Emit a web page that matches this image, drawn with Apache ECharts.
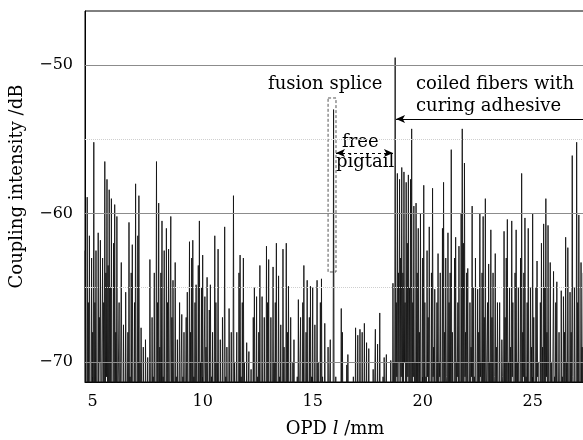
<!DOCTYPE html>
<html>
<head>
<meta charset="utf-8">
<script src="https://cdn.jsdelivr.net/npm/echarts@6/dist/echarts.min.js"></script>
<style>
    html, body { margin: 0; padding: 0; background: #fff; }
    #chart { width: 583px; height: 440px; }
</style>
</head>
<body>
<div id="chart"></div>
<script>
    // OPD sample grid (mm): peaks on the 0.05 grid, dips half way between
    const opdStart = 4.65;
    const opdStep = 0.05;
    const opdMin = 4.65;
    const opdMax = 27.38;

    // coupling intensity (dB) on the 0.05 mm grid
    const intensity = [
        -62.5, -73, -58.9, -66, -61.5, -72, -63,
        // 5
        -68, -55.2, -66, -62.5, -72, -61.3, -67, -61.8, -74, -63, -66, -56.5, -64, -57.7, -63.5, -58.4, -65, -59, -72, -62,
        // 6
        -59.4, -68, -60.2, -73, -66, -74, -63.3, -72, -67.5, -74, -65.3, -73, -68, -60.6, -71, -64, -62.1, -73, -66, -58.0,
        // 7
        -72, -61.5, -58.8, -70, -67.7, -74, -69, -73, -68.5, -74, -69.7, -72, -63.1, -73, -67, -71, -64, -74, -56.5, -66,
        // 8
        -59.3, -69, -64, -60.5, -71, -62.5, -74, -61, -66, -62.4, -73, -60.2, -67, -64.5, -74, -63.3, -71, -68.5, -74, -66,
        // 9
        -73, -66.8, -71, -68, -74, -67, -65.3, -72, -61.9, -68, -63, -61.8, -71, -66, -64.8, -72, -63.5, -60.5, -70, -65,
        // 10
        -62.8, -72, -65.6, -69, -64.3, -73, -66.5, -64.8, -71, -68, -74, -61.5, -66, -70, -62.4, -74, -68.5, -72, -67, -74,
        // 11
        -60.9, -71, -69, -74, -66.4, -72, -68, -74, -58.8, -70, -74, -68, -73, -64, -62.8, -71, -66, -63, -70, -74,
        // 12
        -68.7, -74, -69.3, -72, -70.5, -74, -67, -65, -73, -65.6, -71, -68, -63.5, -74, -65.6, -72, -67, -74, -62.2, -66,
        // 13
        -63.1, -72, -67, -74, -63.6, -70, -66, -62.0, -73, -64.2, -71, -67.5, -74, -62.4, -69, -72, -62.0, -68, -64.9, -73,
        // 14
        -67, -74, -70, -68.5, -74, -74, -71, -65.8, -73, -67, -74, -66, -63.5, -72, -68, -64.5, -73, -67, -64.9, -71,
        // 15 (fusion splice peak at the end)
        -65, -72, -67.5, -74, -64.5, -70, -73, -66, -64.4, -71, -74, -67.4, -72, -74, -69, -74, -68.5, -73, -74, -53.0,
        // 16 (free pigtail)
        -74, -71, -74, -74, -72, -74, -66.4, -68, -74, -73, -74, -70.2, -69.5, -74, -74, -72, -74, -71, -74, -67.7,
        // 17
        -74, -68.2, -74, -67.8, -74, -68, -74, -67.4, -73, -68.7, -74, -69.1, -74, -72, -74, -70.5, -74, -67.8, -74, -68.8,
        // 18 (start of coiled fibers)
        -74, -66.7, -73, -74, -71, -69.7, -74, -69.5, -74, -72, -74, -69.9, -74, -64.7, -70, -49.5, -66, -57.3, -64, -57.7,
        // 19
        -63, -56.9, -64, -57.2, -66, -57.9, -62, -57.4, -65, -57.7, -54.3, -66, -59.5, -70, -59.3, -64, -61, -68, -60, -72,
        // 20
        -63, -58.1, -66, -71, -62.5, -67, -60.9, -72, -64, -58.3, -69, -65.1, -73, -66, -62.7, -70, -64, -74, -61, -57.9,
        // 21
        -68, -63, -72, -61.3, -66, -64, -55.7, -68, -73, -63, -61.6, -70, -66, -62.2, -72, -60, -54.3, -62, -56.6, -68,
        // 22
        -64, -63.7, -72, -66, -69, -59.5, -65, -71, -63, -73, -65.1, -68, -60, -70, -64, -60.2, -67, -59.0, -72, -66,
        // 23
        -63.4, -70, -61.1, -67, -64, -73, -62.7, -69, -66, -72, -66, -74, -68.5, -71, -61.2, -67, -63, -60.4, -70, -65,
        // 24
        -69, -60.5, -66, -72, -64, -61.1, -70, -65, -73, -63, -57.3, -68, -64, -60.3, -71, -66, -61, -73, -65, -69,
        // 25
        -60.0, -67, -72, -65, -63.2, -70, -74, -66, -62, -69, -60.7, -65, -59.0, -68, -60.8, -72, -63.3, -70, -74, -63.9,
        // 26
        -71, -66, -64.6, -73, -68, -74, -65.2, -71, -65.6, -68, -61.6, -70, -62.3, -72, -65.3, -68, -56.1, -71, -65, -73,
        // 27
        -55.2, -66, -60.1, -72, -63.3, -69, -64
    ];

    // troughs between neighbouring samples (dB); most fall below the axis floor
    const dips = [
        -74, -75, -72, -76, -73, -75, -74,
        // 5
        -73, -75, -72, -74, -76, -73, -70, -75, -74, -72, -75, -73, -71, -74, -76, -72, -75, -73, -74, -75,
        // 6
        -72, -76, -74, -73, -75, -74, -72, -76, -73, -75, -74, -72, -75, -73, -76, -74, -72, -75, -73, -74,
        // 7
        -75, -73, -76, -74, -72, -75, -74, -76, -73, -75, -74, -76, -72, -75, -73, -74, -76, -72, -75, -73,
        // 8
        -74, -76, -72, -75, -73, -74, -76, -72, -75, -74, -73, -76, -74, -72, -75, -73, -76, -74, -72, -75,
        // 9
        -73, -75, -74, -76, -72, -75, -73, -74, -76, -72, -75, -73, -74, -76, -72, -75, -74, -73, -76, -74,
        // 10
        -75, -72, -74, -76, -73, -75, -74, -72, -76, -74, -73, -75, -76, -72, -74, -75, -73, -76, -74, -72,
        // 11
        -74, -76, -73, -75, -72, -74, -76, -73, -75, -74, -72, -76, -75, -73, -74, -76, -72, -75, -74, -76,
        // 12
        -75, -74, -76, -73, -75, -76, -74, -72, -75, -76, -73, -74, -76, -75, -73, -76, -74, -75, -73, -74,
        // 13
        -76, -74, -75, -73, -76, -74, -72, -75, -76, -74, -73, -75, -76, -74, -75, -73, -76, -74, -75, -76,
        // 14
        -74, -76, -75, -76, -75, -74, -76, -75, -73, -76, -75, -74, -76, -73, -75, -76, -74, -75, -76, -74,
        // 15
        -75, -76, -74, -75, -76, -73, -75, -76, -74, -75, -76, -74, -75, -76, -75, -74, -76, -75, -76, -75,
        // 16
        -76, -75, -76, -75, -76, -75, -76, -74, -75, -76, -75, -76, -74, -75, -76, -75, -76, -75, -76, -75,
        // 17
        -75, -76, -75, -74, -76, -75, -76, -74, -75, -76, -75, -74, -76, -75, -76, -75, -74, -76, -75, -76,
        // 18
        -75, -76, -74, -75, -76, -75, -74, -76, -75, -76, -75, -74, -76, -73, -75, -74, -71, -73, -70, -72,
        // 19
        -71, -74, -72, -70, -75, -73, -71, -74, -72, -75, -73, -71, -74, -76, -72, -74, -73, -75, -72, -74,
        // 20
        -72, -74, -75, -73, -71, -74, -72, -76, -73, -71, -75, -74, -72, -73, -75, -71, -74, -73, -76, -72,
        // 21
        -73, -71, -75, -74, -72, -73, -75, -76, -72, -74, -73, -71, -75, -73, -74, -72, -75, -73, -71, -74,
        // 22
        -72, -75, -73, -74, -71, -76, -73, -74, -72, -75, -74, -73, -71, -75, -72, -74, -73, -75, -72, -74,
        // 23
        -74, -72, -75, -73, -74, -71, -75, -73, -72, -74, -75, -73, -71, -74, -72, -75, -73, -74, -72, -75,
        // 24
        -73, -71, -74, -75, -72, -74, -73, -76, -72, -74, -73, -71, -75, -74, -72, -73, -75, -74, -72, -73,
        // 25
        -72, -74, -75, -73, -71, -74, -76, -73, -72, -75, -73, -74, -71, -75, -72, -74, -73, -75, -74, -72,
        // 26
        -74, -73, -75, -72, -74, -76, -73, -74, -72, -75, -73, -74, -72, -75, -73, -74, -71, -75, -73, -74,
        // 27
        -72, -74, -73, -75, -72, -74
    ];

    const xTicks = [5, 10, 15, 20, 25];
    const yTicks = [-70, -60, -50];
    const gridSolid = [-70, -60, -50];
    const gridDotted = [-65, -55];

    const FONT = '"DejaVu Serif", serif';

    // interleave samples and troughs into one trace
    const traceData = [];
    intensity.forEach((v, i) => {
        const x = opdStart + i * opdStep;
        traceData.push([+x.toFixed(3), v]);
        if (i < dips.length) {
            traceData.push([+(x + opdStep / 2).toFixed(3), dips[i]]);
        }
    });

    const gridLines = [];
    gridSolid.forEach(v => gridLines.push({ yAxis: v, lineStyle: { type: 'solid', color: '#8c8c8c', width: 1 } }));
    gridDotted.forEach(v => gridLines.push({ yAxis: v, lineStyle: { type: 'dotted', color: '#cfcfcf', width: 1 } }));

    // annotation arrows
    const arrowLines = [
        [
            { coord: [opdMax, -53.64], symbol: 'none' },
            { coord: [18.79, -53.64], symbol: 'arrow' }
        ],
        [
            { coord: [16.06, -55.93], symbol: 'arrow', lineStyle: { type: [3, 3], color: '#000', width: 1 } },
            { coord: [18.65, -55.93], symbol: 'arrow' }
        ]
    ];

    const textStyle = (t) => ({ text: t, fontFamily: FONT, fontSize: 18, fill: '#000' });

    const chart = echarts.init(document.getElementById('chart'));

    const option = {
        animation: false,
        backgroundColor: '#fff',
        grid: {
            left: 85, right: -2, top: 11, bottom: 58,
            containLabel: false,
            outerBoundsMode: 'none',
            show: true, borderColor: '#000', borderWidth: 1, backgroundColor: 'transparent'
        },
        xAxis: {
            type: 'value',
            min: opdMin,
            max: opdMax,
            axisLine: { show: true, onZero: false, lineStyle: { color: '#000', width: 1 } },
            axisTick: { show: true, inside: true, length: 5, customValues: xTicks, lineStyle: { color: '#000' } },
            axisLabel: { customValues: xTicks, margin: 12, color: '#000', fontFamily: FONT, fontSize: 16 },
            splitLine: { show: false },
            name: '{t|OPD }{i|l}{t| /mm}',
            nameLocation: 'middle',
            nameGap: 38,
            nameTextStyle: {
                rich: {
                    t: { fontFamily: FONT, fontSize: 18, color: '#000' },
                    i: { fontFamily: FONT, fontSize: 18, fontStyle: 'italic', color: '#000' }
                }
            }
        },
        yAxis: {
            type: 'value',
            min: -71.35,
            max: -46.36,
            axisLine: { show: true, onZero: false, lineStyle: { color: '#000', width: 1 } },
            axisTick: { show: true, inside: true, length: 6, customValues: yTicks, lineStyle: { color: '#000' } },
            axisLabel: {
                customValues: yTicks, margin: 12, color: '#000', fontFamily: FONT, fontSize: 16,
                formatter: v => (v < 0 ? '\u2212' : '') + Math.abs(v)
            },
            splitLine: { show: false },
            name: 'Coupling intensity /dB',
            nameLocation: 'middle',
            nameGap: 59,
            // title sits a little above the plot centre
            nameTextStyle: { fontFamily: FONT, fontSize: 18, color: '#000', padding: [0, 0, 0, 20] }
        },
        series: [
            {
                type: 'line',
                data: traceData,
                symbol: 'none',
                silent: true,
                clip: true,
                lineStyle: { color: '#141414', width: 0.9 },
                markLine: {
                    silent: true,
                    symbol: 'none',
                    symbolSize: [6, 9],
                    label: { show: false },
                    emphasis: { disabled: true },
                    lineStyle: { color: '#000', width: 1, type: 'solid' },
                    data: gridLines.concat(arrowLines)
                },
                markArea: {
                    silent: true,
                    label: { show: false },
                    itemStyle: { color: 'rgba(0,0,0,0)', borderColor: '#555', borderWidth: 1, borderType: [3, 2] },
                    data: [[{ coord: [15.70, -52.22] }, { coord: [16.06, -63.94] }]]
                }
            }
        ],
        graphic: [
            { type: 'text', left: 268, top: 75, style: textStyle('fusion splice') },
            { type: 'text', left: 416, top: 75, style: textStyle('coiled fibers with') },
            { type: 'text', left: 416, top: 97, style: textStyle('curing adhesive') },
            { type: 'text', left: 342, top: 133, style: Object.assign(textStyle('free'), { backgroundColor: '#fff' }) },
            { type: 'text', left: 336, top: 153, style: textStyle('pigtail') }
        ]
    };

    chart.setOption(option);
</script>
</body>
</html>
